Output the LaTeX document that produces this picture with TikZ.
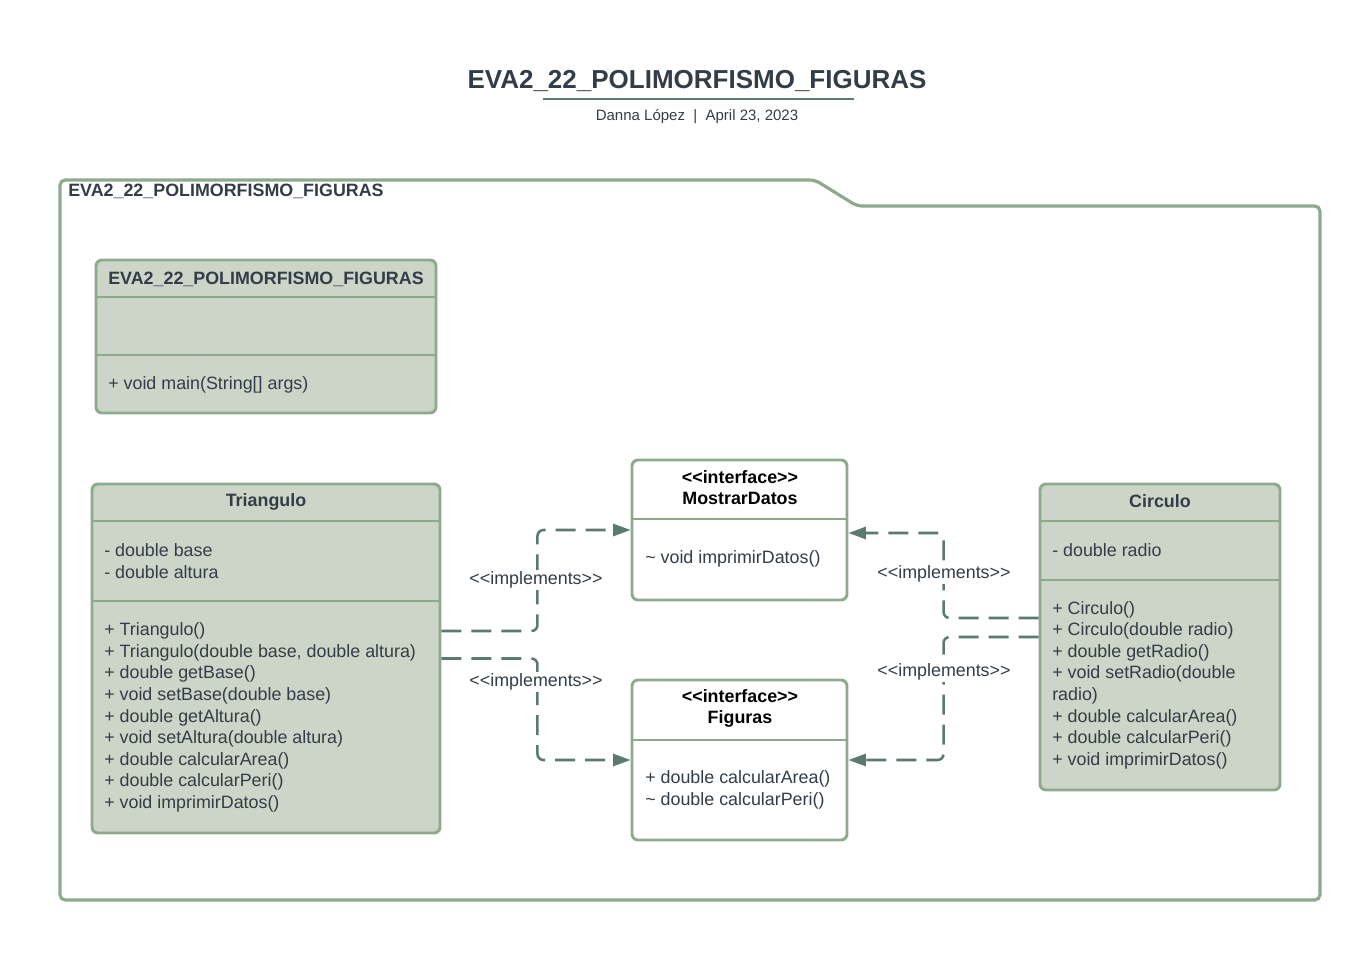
\documentclass[tikz,border=0pt]{standalone}
\usepackage{fontspec}
\setmainfont{Liberation Sans}
\usepackage{tikz}
\usetikzlibrary{positioning,arrows.meta,calc}

\definecolor{sage}{HTML}{8DAA8D}
\definecolor{sagefill}{HTML}{CCD5C8}
\definecolor{link}{HTML}{5B7A6F}
\definecolor{ink}{HTML}{333D47}

\newcommand{\stereo}[1]{<\kern0pt<#1>\kern0pt>}

\begin{document}
\begin{tikzpicture}[
  x=0.75pt, y=-0.75pt,
  every node/.style={text=ink, inner sep=0pt, font=\fontsize{13.4}{16.2}\selectfont},
  classbox/.style={draw=sage, line width=2.2pt, rounded corners=4.5pt, fill=sagefill},
  ifacebox/.style={draw=sage, line width=2.2pt, rounded corners=4.5pt, fill=white},
  div/.style={draw=sage, line width=2.2pt},
  head/.style={font=\bfseries\fontsize{13.4}{15.75}\selectfont, align=center},
  members/.style={anchor=west, align=left},
  impl/.style={draw=link, line width=1.9pt, dash pattern=on 15pt off 7.5pt, rounded corners=4.5pt, -{Triangle[length=13pt,width=9pt]}},
  lbl/.style={fill=white, inner sep=1pt}
]
\useasboundingbox (0,0) rectangle (1368,960);

% title block
\node[font=\bfseries\fontsize{19.5}{23}\selectfont] (title) at (697,81) {EVA2\_22\_POLIMORFISMO\_FIGURAS};
\draw[link, line width=1.5pt] (543,99) -- (854,99);
\node[font=\fontsize{11.25}{13}\selectfont] (sub) at (697,117) {Danna López \ | \ April 23, 2023};

% package
\draw[sage, line width=2.4pt, rounded corners=4pt] (60,206) -- (60,180) -- (815,180) -- (857,206) -- (1320,206) -- (1320,900) -- (60,900) -- cycle;
\node[anchor=west, font=\bfseries\fontsize{13.4}{16}\selectfont] (pkg) at (68,191) {EVA2\_22\_POLIMORFISMO\_FIGURAS};

% main class
\node[classbox, minimum width=255pt, minimum height=114.75pt] (main) at (266,336.5) {};
\draw[div] (96,297) -- (436,297);
\draw[div] (96,355) -- (436,355);
\node[head] at (266,279) {EVA2\_22\_POLIMORFISMO\_FIGURAS};
\node[members] at (108,385) {+ void main(String[] args)};

% Triangulo
\node[classbox, minimum width=261pt, minimum height=261.75pt] (tri) at (266,658.5) {};
\draw[div] (92,521) -- (440,521);
\draw[div] (92,601) -- (440,601);
\node[head] at (266,501.5) {Triangulo};
\node[members] at (104,561) {- double base\\- double altura};
\node[members] at (104,717.5) {+ Triangulo()\\+ Triangulo(double base, double altura)\\+ double getBase()\\+ void setBase(double base)\\+ double getAltura()\\+ void setAltura(double altura)\\+ double calcularArea()\\+ double calcularPeri()\\+ void imprimirDatos()};

% MostrarDatos
\node[ifacebox, minimum width=161.25pt, minimum height=105pt] (md) at (739.5,530) {};
\draw[div] (632,519) -- (847,519);
\node[head, text=black] at (740,488) {\stereo{interface}\\MostrarDatos};
\node[members] at (645,559) {\textasciitilde{} void imprimirDatos()};

% Figuras
\node[ifacebox, minimum width=161.25pt, minimum height=120pt] (fg) at (739.5,760) {};
\draw[div] (632,740) -- (847,740);
\node[head, text=black] at (740,708) {\stereo{interface}\\Figuras};
\node[members] at (645,790) {+ double calcularArea()\\\textasciitilde{} double calcularPeri()};

% Circulo
\node[classbox, minimum width=180pt, minimum height=229.5pt] (ci) at (1160,637) {};
\draw[div] (1040,521) -- (1280,521);
\draw[div] (1040,580) -- (1280,580);
\node[head] at (1160,501.5) {Circulo};
\node[members] at (1052,550) {- double radio};
\node[members] at (1052,685) {+ Circulo()\\+ Circulo(double radio)\\+ double getRadio()\\+ void setRadio(double\\radio)\\+ double calcularArea()\\+ double calcularPeri()\\+ void imprimirDatos()};

% realizations
\draw[impl] ($(tri.east)+(0,-27.5)$) -- ++(96,0) |- (md.west);
\draw[impl] (tri.east) -- ++(96,0) |- (fg.west);
\draw[impl] ($(ci.west)+(0,-19)$) -- ++(-95,0) |- ($(md.east)+(0,3)$);
\draw[impl] (ci.west) -- ++(-95,0) |- (fg.east);
\node[lbl] at (536,580) {\stereo{implements}};
\node[lbl] at (536,682) {\stereo{implements}};
\node[lbl] at (944,574) {\stereo{implements}};
\node[lbl] at (944,672) {\stereo{implements}};
\end{tikzpicture}
\end{document}
